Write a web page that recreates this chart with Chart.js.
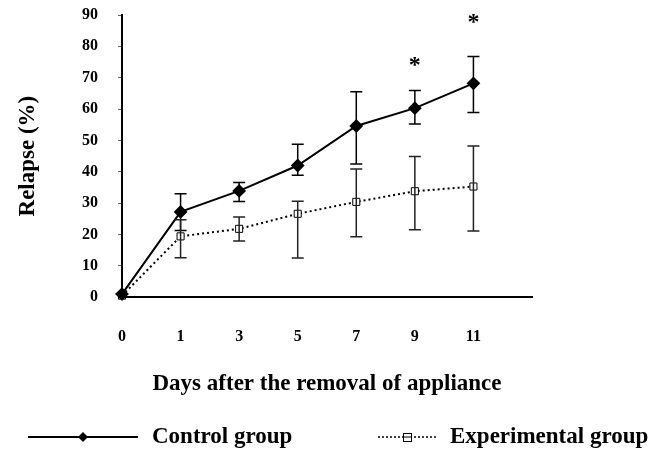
<!DOCTYPE html>
<html>
<head>
<meta charset="utf-8">
<script src="https://cdn.jsdelivr.net/npm/chart.js@4"></script>
<style>
  html, body { margin: 0; padding: 0; background: #fff; }
  #wrap { width: 650px; height: 449px; }
</style>
</head>
<body>
<div id="wrap"><canvas id="chart" width="650" height="449"></canvas></div>
<script>
// x categories (the trailing blank keeps room at the right end of the axis)
const days = ['0', '1', '3', '5', '7', '9', '11', ''];
const yTicks = [0, 10, 20, 30, 40, 50, 60, 70, 80, 90];

// Control group: mean, error bar top and bottom (%)
const control = [1, 27.2, 33.9, 42, 54.6, 60.3, 68.2];
const controlHigh = [null, 33, 36.6, 48.8, 65.5, 65.9, 76.8];
const controlLow = [null, 21.3, 30.5, 38.9, 42.5, 55.2, 58.9];

// Experimental group
const experimental = [0.5, 19.4, 21.8, 26.6, 30.4, 33.8, 35.3];
const expHigh = [null, 24.7, 25.6, 30.6, 40.9, 44.9, 48.2];
const expLow = [null, 12.6, 17.9, 12.5, 19.3, 21.5, 21.1];

// significance stars (value where the * sits)
const stars = [null, null, null, null, null, 75.5, 89];

const FONT = "'Liberation Serif', 'Times New Roman', serif";

const errorBars = {
  id: 'errorBars',
  afterDatasetsDraw(chart) {
    const { ctx, scales: { x, y } } = chart;
    const sets = [
      { hi: controlHigh, lo: controlLow, color: '#000' },
      { hi: expHigh, lo: expLow, color: '#222' }
    ];
    ctx.save();
    ctx.lineWidth = 1.5;
    sets.forEach(s => {
      ctx.strokeStyle = s.color;
      s.hi.forEach((h, i) => {
        if (h == null) return;
        const px = x.getPixelForValue(i);
        const top = y.getPixelForValue(h);
        const bot = y.getPixelForValue(s.lo[i]);
        ctx.beginPath();
        ctx.moveTo(px, top); ctx.lineTo(px, bot);
        ctx.moveTo(px - 6, top); ctx.lineTo(px + 6, top);
        ctx.moveTo(px - 6, bot); ctx.lineTo(px + 6, bot);
        ctx.stroke();
      });
    });
    // stars
    ctx.fillStyle = '#000';
    ctx.font = 'bold 24px ' + FONT;
    ctx.textAlign = 'center';
    ctx.textBaseline = 'middle';
    stars.forEach((v, i) => {
      if (v == null) return;
      ctx.fillText('*', x.getPixelForValue(i), y.getPixelForValue(v) + 5);
    });
    ctx.restore();
  }
};

const legendBelow = {
  id: 'legendBelow',
  afterDraw(chart) {
    const ctx = chart.ctx;
    const ly = 437;
    ctx.save();
    ctx.strokeStyle = '#000';
    ctx.fillStyle = '#000';
    // control sample
    ctx.lineWidth = 2;
    ctx.beginPath(); ctx.moveTo(28, ly); ctx.lineTo(138, ly); ctx.stroke();
    ctx.beginPath();
    ctx.moveTo(83, ly - 5); ctx.lineTo(88, ly); ctx.lineTo(83, ly + 5); ctx.lineTo(78, ly);
    ctx.closePath(); ctx.fill();
    // experimental sample
    ctx.lineWidth = 1.5;
    ctx.setLineDash([2, 2]);
    ctx.beginPath(); ctx.moveTo(378, ly); ctx.lineTo(437, ly); ctx.stroke();
    ctx.setLineDash([]);
    ctx.fillStyle = '#fff';
    ctx.lineWidth = 1;
    ctx.fillRect(403, ly - 4, 8, 8);
    ctx.strokeRect(403.5, ly - 3.5, 8, 8);
    ctx.beginPath(); ctx.moveTo(403, ly); ctx.lineTo(411, ly); ctx.stroke();
    // labels
    ctx.fillStyle = '#000';
    ctx.font = 'bold 23px ' + FONT;
    ctx.textAlign = 'left';
    ctx.textBaseline = 'middle';
    ctx.fillText(chart.data.datasets[0].label, 152, ly);
    ctx.fillText(chart.data.datasets[1].label, 450, ly);
    ctx.restore();
  }
};

new Chart(document.getElementById('chart'), {
  type: 'line',
  data: {
    labels: days,
    datasets: [
      {
        label: 'Control group',
        data: control,
        borderColor: '#000',
        backgroundColor: '#000',
        borderWidth: 2,
        pointStyle: 'rectRot',
        pointRadius: 5.5,
        pointBackgroundColor: '#000',
        pointBorderColor: '#000',
        tension: 0,
        clip: false
      },
      {
        label: 'Experimental group',
        data: experimental,
        borderColor: '#000',
        borderWidth: 2,
        borderDash: [2, 3],
        pointStyle: 'rect',
        pointRadius: 5,
        pointBackgroundColor: '#fff',
        pointBorderColor: '#000',
        pointBorderWidth: 1,
        tension: 0,
        clip: false
      }
    ]
  },
  options: {
    responsive: false,
    animation: false,
    layout: { padding: { left: 14, top: 15, right: 118, bottom: 51 } },
    plugins: { legend: { display: false }, tooltip: { enabled: false } },
    scales: {
      x: {
        type: 'category',
        offset: false,
        grid: { display: false },
        border: { display: true, color: '#000', width: 2 },
        ticks: {
          color: '#000',
          padding: 22,
          maxRotation: 0,
          autoSkip: false,
          font: { family: FONT, size: 16, weight: 'bold' }
        },
        title: {
          display: true,
          text: 'Days after the removal of appliance',
          color: '#000',
          padding: { top: 2, bottom: 0 },
          font: { family: FONT, size: 23, weight: 'bold' }
        }
      },
      y: {
        min: 0,
        max: 90,
        afterBuildTicks(scale) { scale.ticks = yTicks.map(v => ({ value: v })); },
        afterFit(scale) {
          scale.width = 108;
          scale.paddingTop = 0;
          scale.paddingBottom = 0;
        },
        grid: { display: true, drawOnChartArea: false, drawTicks: true, tickLength: 4, color: '#666' },
        border: { display: true, color: '#000', width: 2 },
        ticks: {
          color: '#000',
          padding: 20,
          font: { family: FONT, size: 16, weight: 'bold' }
        },
        title: {
          display: true,
          text: 'Relapse (%)',
          color: '#000',
          padding: { top: 0, bottom: 0 },
          font: { family: FONT, size: 23, weight: 'bold' }
        }
      }
    }
  },
  plugins: [errorBars, legendBelow]
});
</script>
</body>
</html>
